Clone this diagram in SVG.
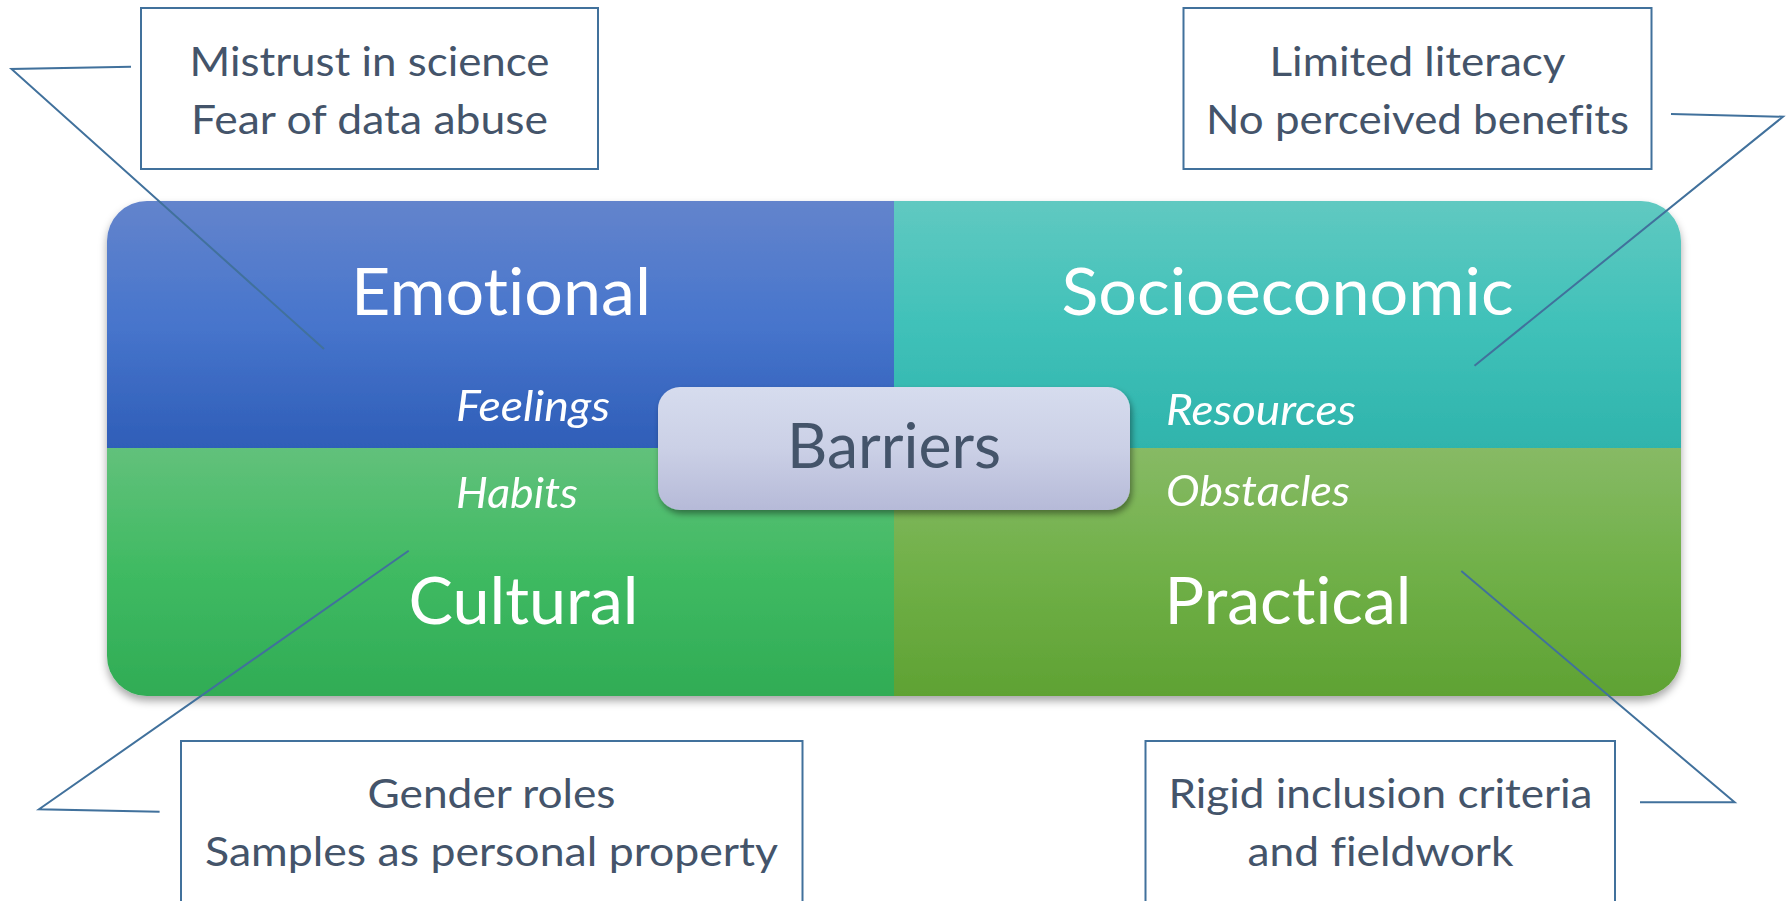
<svg xmlns="http://www.w3.org/2000/svg" width="1789" height="901" viewBox="0 0 1789 901">
  <defs>
    <linearGradient id="gEmo" x1="0" y1="0" x2="0" y2="1">
      <stop offset="0" stop-color="#6384CC"/>
      <stop offset="0.5" stop-color="#4775CC"/>
      <stop offset="1" stop-color="#2F5EB8"/>
    </linearGradient>
    <linearGradient id="gSoc" x1="0" y1="0" x2="0" y2="1">
      <stop offset="0" stop-color="#60C9C1"/>
      <stop offset="0.5" stop-color="#40C1B9"/>
      <stop offset="1" stop-color="#2FB4AC"/>
    </linearGradient>
    <linearGradient id="gCul" x1="0" y1="0" x2="0" y2="1">
      <stop offset="0" stop-color="#62C17B"/>
      <stop offset="0.5" stop-color="#3FBA62"/>
      <stop offset="1" stop-color="#30AC55"/>
    </linearGradient>
    <linearGradient id="gPra" x1="0" y1="0" x2="0" y2="1">
      <stop offset="0" stop-color="#87BA65"/>
      <stop offset="0.5" stop-color="#70B048"/>
      <stop offset="1" stop-color="#5FA233"/>
    </linearGradient>
    <linearGradient id="gBar" x1="0" y1="0" x2="0" y2="1">
      <stop offset="0" stop-color="#D6DCEE"/>
      <stop offset="0.5" stop-color="#CBD0E6"/>
      <stop offset="1" stop-color="#B6BAD8"/>
    </linearGradient>
    <filter id="blockShadow" x="-5%" y="-5%" width="110%" height="115%">
      <feDropShadow dx="0" dy="5" stdDeviation="4" flood-color="#000" flood-opacity="0.35"/>
    </filter>
    <filter id="barShadow" x="-10%" y="-20%" width="120%" height="150%">
      <feDropShadow dx="2" dy="4" stdDeviation="3" flood-color="#000" flood-opacity="0.4"/>
    </filter>
  </defs>
  <style>
    text { font-variant-ligatures: none; }
    .quad-title { font-family: Lato, "Open Sans", sans-serif; font-size: 65px; fill: #FFFFFF; text-anchor: middle; }
    .quad-sub { font-family: Lato, "Open Sans", sans-serif; font-size: 42px; font-style: italic; fill: #FFFFFF; }
    .note-box { fill: #FFFFFF; stroke: #41719C; stroke-width: 2; }
    .note-text { font-family: Lato, "Open Sans", sans-serif; font-size: 40px; fill: #44546A; text-anchor: middle; }
    .center-text { font-family: Lato, "Open Sans", sans-serif; font-size: 61px; fill: #44546A; text-anchor: middle; }
    .leader { fill: none; stroke: #41719C; stroke-width: 2; stroke-linejoin: miter; }
  </style>

  <!-- four quadrants of the barrier block -->
  <g id="block" filter="url(#blockShadow)">
    <g id="emotional">
      <path d="M107,448 V241 A40,40 0 0 1 147,201 H894 V448 Z" fill="url(#gEmo)"/>
      <text class="quad-title" x="501" y="315" textLength="300" lengthAdjust="spacingAndGlyphs">Emotional</text>
      <text class="quad-sub" x="456" y="421" textLength="154" lengthAdjust="spacingAndGlyphs">Feelings</text>
    </g>
    <g id="socioeconomic">
      <path d="M894,201 H1641 A40,40 0 0 1 1681,241 V448 H894 Z" fill="url(#gSoc)"/>
      <text class="quad-title" x="1287.5" y="315" textLength="452" lengthAdjust="spacingAndGlyphs">Socioeconomic</text>
      <text class="quad-sub" x="1166" y="425" textLength="190" lengthAdjust="spacingAndGlyphs">Resources</text>
    </g>
    <g id="cultural">
      <path d="M107,448 H894 V696 H147 A40,40 0 0 1 107,656 Z" fill="url(#gCul)"/>
      <text class="quad-title" x="523.5" y="624" textLength="230" lengthAdjust="spacingAndGlyphs">Cultural</text>
      <text class="quad-sub" x="456" y="508" textLength="122" lengthAdjust="spacingAndGlyphs">Habits</text>
    </g>
    <g id="practical">
      <path d="M894,448 H1681 V656 A40,40 0 0 1 1641,696 H894 Z" fill="url(#gPra)"/>
      <text class="quad-title" x="1288" y="624" textLength="247" lengthAdjust="spacingAndGlyphs">Practical</text>
      <text class="quad-sub" x="1166" y="506" textLength="184" lengthAdjust="spacingAndGlyphs">Obstacles</text>
    </g>
  </g>

  <!-- callout leader lines -->
  <g id="connectors">
    <polyline class="leader" points="131,66.7 11.5,69 324,349"/>
    <polyline class="leader" points="1671,114 1783,116.7 1474.5,365.7"/>
    <polyline class="leader" points="159.6,811.7 39,809.3 408.7,550.7"/>
    <polyline class="leader" points="1640,802.3 1734.6,802.3 1461.3,571"/>
  </g>

  <!-- central label -->
  <g id="barriers">
    <rect x="658" y="387" width="472" height="123" rx="22" ry="22" fill="url(#gBar)" filter="url(#barShadow)"/>
    <text class="center-text" x="894" y="468" textLength="214" lengthAdjust="spacingAndGlyphs">Barriers</text>
  </g>

  <!-- callout boxes -->
  <g id="note-emotional">
    <rect class="note-box" x="141" y="8" width="457" height="161"/>
    <text class="note-text" x="369.5" y="76" textLength="360" lengthAdjust="spacingAndGlyphs">Mistrust in science</text>
    <text class="note-text" x="369.5" y="134" textLength="357" lengthAdjust="spacingAndGlyphs">Fear of data abuse</text>
  </g>
  <g id="note-socioeconomic">
    <rect class="note-box" x="1183.5" y="8" width="468" height="161"/>
    <text class="note-text" x="1417.5" y="76" textLength="296" lengthAdjust="spacingAndGlyphs">Limited literacy</text>
    <text class="note-text" x="1417.5" y="134" textLength="423" lengthAdjust="spacingAndGlyphs">No perceived benefits</text>
  </g>
  <g id="note-cultural">
    <rect class="note-box" x="181" y="741" width="621.5" height="200"/>
    <text class="note-text" x="491.5" y="808" textLength="248" lengthAdjust="spacingAndGlyphs">Gender roles</text>
    <text class="note-text" x="491.5" y="866" textLength="573" lengthAdjust="spacingAndGlyphs">Samples as personal property</text>
  </g>
  <g id="note-practical">
    <rect class="note-box" x="1145.5" y="741" width="469.5" height="200"/>
    <text class="note-text" x="1380.5" y="808" textLength="424" lengthAdjust="spacingAndGlyphs">Rigid inclusion criteria</text>
    <text class="note-text" x="1380.5" y="866" textLength="266" lengthAdjust="spacingAndGlyphs">and fieldwork</text>
  </g>
</svg>
